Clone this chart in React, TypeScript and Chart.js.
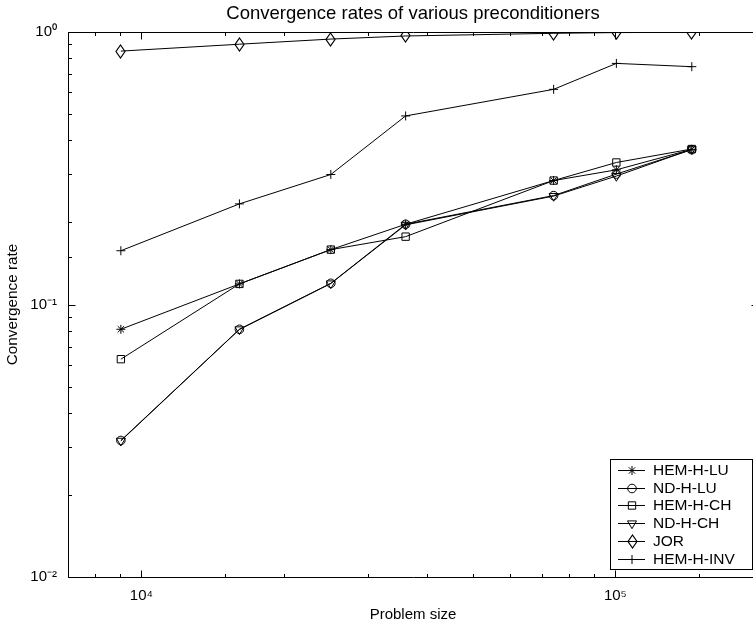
import React, { useEffect, useRef } from 'react';
import { Chart, registerables } from 'chart.js';
import { drawPoint } from 'chart.js/helpers';

Chart.register(...registerables);

const TITLE = 'Convergence rates of various preconditioners';
const X_LABEL = 'Problem size';
const Y_LABEL = 'Convergence rate';

const problemSizes = [9050, 16100, 25100, 36100, 74100, 100500, 145000];

const hemHLU = [0.0811, 0.119, 0.159, 0.197, 0.285, 0.312, 0.371];
const ndHLU = [0.0317, 0.0811, 0.1196, 0.197, 0.251, 0.301, 0.37];
const hemHCH = [0.063, 0.119, 0.159, 0.1774, 0.285, 0.332, 0.372];
const ndHCH = [0.0316, 0.081, 0.1194, 0.196, 0.25, 0.296, 0.371];
const jor = [0.851, 0.902, 0.942, 0.967, 0.989, 0.995, 0.997];
const hemHINV = [0.1575, 0.234, 0.3, 0.492, 0.616, 0.767, 0.746];

const seriesLabels = ['HEM-H-LU', 'ND-H-LU', 'HEM-H-CH', 'ND-H-CH', 'JOR', 'HEM-H-INV'];

const X_MIN = 7000;
const X_MAX = 200000;
const Y_MIN = 0.01;
const Y_MAX = 1;

const xTickValues = [1e4, 1e5];
const xTickLabels = ['10\u2074', '10\u2075'];
const yTickValues = [0.01, 0.1, 1];
const yTickLabels = ['10\u207B\u00B2', '10\u207B\u00B9', '10\u2070'];

const FONT = "'Liberation Sans', Arial, Helvetica, sans-serif";

function isPow10(v: number) {
  const l = Math.log10(v);
  return Math.abs(l - Math.round(l)) < 1e-9;
}

function labelFor(v: number, vals: number[], labels: string[]) {
  for (let i = 0; i < vals.length; i++) {
    if (Math.abs(Math.log10(v) - Math.log10(vals[i])) < 1e-9) return labels[i];
  }
  return '';
}

function makeDiamond() {
  const c = document.createElement('canvas');
  c.width = 11;
  c.height = 15;
  const g = c.getContext('2d')!;
  g.strokeStyle = '#000';
  g.lineWidth = 1.2;
  g.beginPath();
  g.moveTo(5.5, 1);
  g.lineTo(10, 7.5);
  g.lineTo(5.5, 14);
  g.lineTo(1, 7.5);
  g.closePath();
  g.stroke();
  return c;
}

const smoothingPlugin = {
  id: 'noSmoothing',
  beforeDatasetsDraw(chart: any) {
    chart.ctx.imageSmoothingEnabled = false;
  },
};

const framePlugin = {
  id: 'matlabFrame',
  afterDatasetsDraw(chart: any) {
    const { ctx, chartArea } = chart;
    const xs = chart.scales.x;
    const ys = chart.scales.y;
    const L = Math.floor(chartArea.left) + 0.5;
    const R = Math.floor(chartArea.right) + 0.5;
    const T = Math.floor(chartArea.top) + 0.5;
    const B = Math.floor(chartArea.bottom) + 0.5;
    ctx.save();
    ctx.strokeStyle = '#000';
    ctx.lineWidth = 1;
    ctx.beginPath();
    ctx.rect(L, T, R - L, B - T);
    ctx.stroke();
    ctx.beginPath();
    xs.ticks.forEach((t: any) => {
      const px = Math.round(xs.getPixelForValue(t.value)) + 0.5;
      const len = isPow10(t.value) ? 7 : 3.5;
      ctx.moveTo(px, B);
      ctx.lineTo(px, B - len);
      ctx.moveTo(px, T);
      ctx.lineTo(px, T + len);
    });
    ys.ticks.forEach((t: any) => {
      const py = Math.round(ys.getPixelForValue(t.value)) + 0.5;
      const len = isPow10(t.value) ? 7 : 3.5;
      ctx.moveTo(L, py);
      ctx.lineTo(L + len, py);
      ctx.moveTo(R, py);
      ctx.lineTo(R - len, py);
    });
    ctx.stroke();
    ctx.restore();
  },
};

const legendPlugin = {
  id: 'boxLegend',
  afterDatasetsDraw(chart: any) {
    const { ctx, chartArea } = chart;
    const w = 142;
    const h = 110;
    const x0 = Math.round(chartArea.right - 6.5 - w);
    const y0 = Math.round(chartArea.bottom - 8 - h);
    ctx.save();
    ctx.imageSmoothingEnabled = false;
    ctx.fillStyle = '#fff';
    ctx.fillRect(x0, y0, w, h);
    ctx.strokeStyle = '#000';
    ctx.lineWidth = 1;
    ctx.strokeRect(x0 + 0.5, y0 + 0.5, w, h);
    ctx.font = `15.5px ${FONT}`;
    ctx.textBaseline = 'middle';
    ctx.textAlign = 'left';
    chart.data.datasets.forEach((ds: any, i: number) => {
      const cy = Math.round(y0 + 11 + i * 17.7) + 0.5;
      ctx.beginPath();
      ctx.moveTo(x0 + 8, cy);
      ctx.lineTo(x0 + 35, cy);
      ctx.strokeStyle = '#000';
      ctx.lineWidth = 1;
      ctx.stroke();
      ctx.fillStyle = 'rgba(0,0,0,0)';
      drawPoint(ctx, { pointStyle: ds.pointStyle, radius: ds.pointRadius, rotation: ds.pointRotation, borderWidth: 1 } as any, x0 + 22, cy);
      ctx.fillStyle = '#000';
      ctx.fillText(ds.label, x0 + 43, cy);
    });
    ctx.restore();
  },
};

export default function App() {
  const ref = useRef<HTMLCanvasElement>(null);
  useEffect(() => {
    const canvas = ref.current!;
    const diamond = makeDiamond();
    const markers: any[] = [
      { pointStyle: 'star', radius: 4.5, rotation: 0 },
      { pointStyle: 'circle', radius: 4.3, rotation: 0 },
      { pointStyle: 'rect', radius: 5.2, rotation: 0 },
      { pointStyle: 'triangle', radius: 5.2, rotation: 180 },
      { pointStyle: diamond, radius: 6, rotation: 0 },
      { pointStyle: 'cross', radius: 4.5, rotation: 0 },
    ];
    const values = [hemHLU, ndHLU, hemHCH, ndHCH, jor, hemHINV];
    const datasets = seriesLabels.map((label, i) => ({
      label,
      data: problemSizes.map((x, j) => ({ x, y: values[i][j] })),
      borderColor: '#000',
      borderWidth: 1,
      backgroundColor: 'rgba(0,0,0,0)',
      pointStyle: markers[i].pointStyle,
      pointRadius: markers[i].radius,
      pointRotation: markers[i].rotation,
      pointBorderColor: '#000',
      pointBorderWidth: 1,
      pointBackgroundColor: 'rgba(0,0,0,0)',
      tension: 0,
      fill: false,
    }));
    const chart = new Chart(canvas, {
      type: 'line',
      data: { datasets } as any,
      plugins: [smoothingPlugin, framePlugin, legendPlugin],
      options: {
        responsive: false,
        animation: false,
        devicePixelRatio: 1,
        layout: { padding: { left: 0, right: 0, top: 0, bottom: 0 } },
        plugins: {
          legend: { display: false },
          tooltip: { enabled: false },
          title: {
            display: true,
            text: TITLE,
            fullSize: false,
            color: '#000',
            font: { family: FONT, size: 18.5, weight: 'normal', lineHeight: 1 },
            padding: { top: 4.5, bottom: 9 },
          },
        },
        scales: {
          x: {
            type: 'logarithmic',
            min: X_MIN,
            max: X_MAX,
            grid: { display: false, drawTicks: false },
            border: { display: false },
            ticks: {
              autoSkip: false,
              maxRotation: 0,
              minRotation: 0,
              color: '#000',
              padding: 10,
              font: { family: FONT, size: 15 },
              callback: (v: any) => labelFor(Number(v), xTickValues, xTickLabels),
            },
            title: {
              display: true,
              text: X_LABEL,
              color: '#000',
              font: { family: FONT, size: 15 },
              padding: { top: 0, bottom: 5.5 },
            },
            afterFit: (s: any) => {
              s.height = 52;
            },
          },
          y: {
            type: 'logarithmic',
            min: Y_MIN,
            max: Y_MAX,
            grid: { display: false, drawTicks: false },
            border: { display: false },
            ticks: {
              autoSkip: false,
              color: '#000',
              padding: 11,
              font: { family: FONT, size: 15 },
              callback: (v: any) => labelFor(Number(v), yTickValues, yTickLabels),
            },
            title: {
              display: true,
              text: Y_LABEL,
              color: '#000',
              font: { family: FONT, size: 15.3 },
              padding: { top: 3.5, bottom: 0 },
            },
            afterFit: (s: any) => {
              s.width = 68;
            },
          },
        },
      } as any,
    });
    return () => chart.destroy();
  }, []);
  return (
    <div style={{ position: 'absolute', left: 0, top: 0, width: 753, height: 629, overflow: 'hidden', background: '#fff' }}>
      <canvas ref={ref} width={768} height={629} style={{ display: 'block', width: 768, height: 629 }} />
    </div>
  );
}
